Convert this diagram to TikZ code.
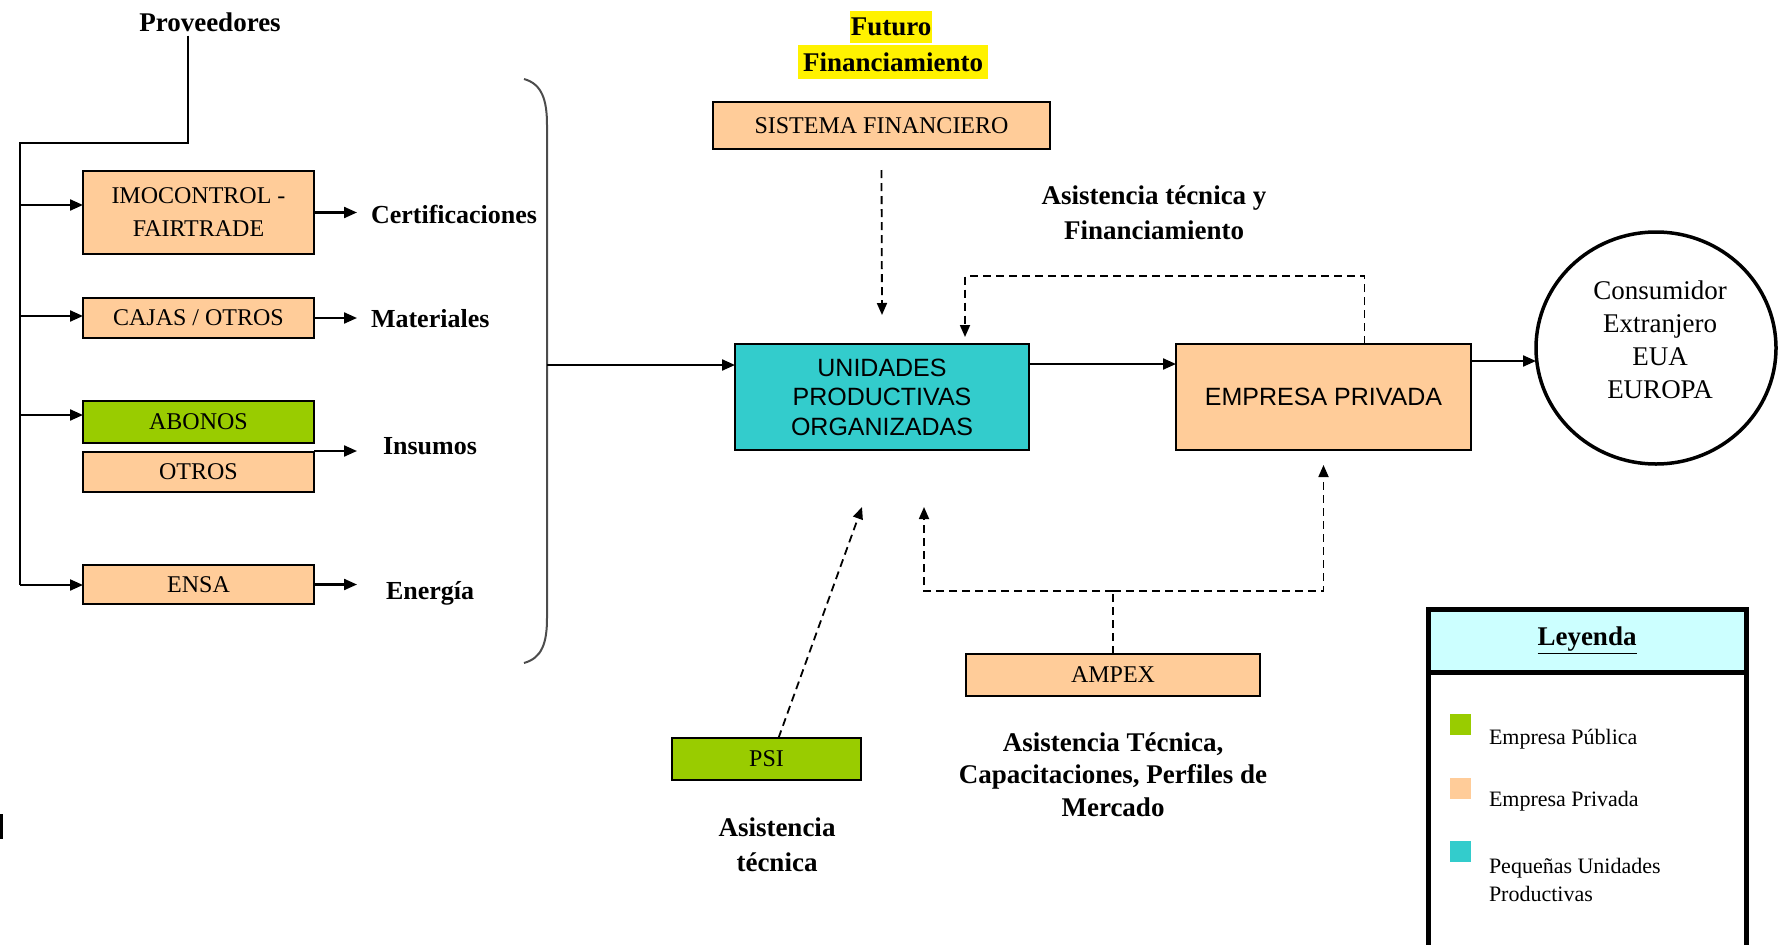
\documentclass[tikz,border=0pt]{standalone}
\usepackage{fontspec}
\setmainfont{Liberation Serif}
\newfontfamily\sansf{Liberation Sans}
\usetikzlibrary{arrows.meta,shapes.geometric}
\definecolor{peach}{HTML}{FFCC99}
\definecolor{lime}{HTML}{99CC00}
\definecolor{tealb}{HTML}{33CCCC}
\definecolor{lcyan}{HTML}{CCFFFF}
\begin{document}
\begin{tikzpicture}[x=1pt,y=-1pt,
 every node/.style={inner sep=0pt, outer sep=0pt},
 box/.style={draw, line width=2.2pt, minimum width=231pt, align=center, font=\fontsize{24}{29}\selectfont},
 obox/.style={box, fill=peach},
 gbox/.style={box, fill=lime},
 sbox/.style={draw, line width=2.2pt, align=center, minimum width=294pt, minimum height=106pt, font=\sansf\fontsize{25}{29.5}\selectfont},
 lbl/.style={font=\fontsize{27}{35}\selectfont\bfseries, align=center},
 slbl/.style={font=\fontsize{26}{30}\selectfont\bfseries},
 conn/.style={line width=2.2pt},
 arr/.style={conn, -{Triangle[length=13pt,width=11pt]}},
 darr/.style={line width=1.8pt, dash pattern=on 8pt off 5pt, -{Triangle[length=12pt,width=10pt]}},
 dline/.style={line width=1.8pt, dash pattern=on 8pt off 5pt},
 legtxt/.style={anchor=west, align=left, font=\fontsize{22}{28}\selectfont},
]
\useasboundingbox (0,0) rectangle (1778,945);

% suppliers tree
\node[lbl] (prov) at (210,22) {Proveedores};
\node[obox, minimum height=83pt, font=\fontsize{24}{33}\selectfont] (imo) at (198.5,212.5) {IMOCONTROL -\\FAIRTRADE};
\node[obox, minimum height=40pt] (caj) at (198.5,318) {CAJAS / OTROS};
\node[gbox, minimum height=42pt] (abo) at (198.5,422) {ABONOS};
\node[obox, minimum height=40pt] (otr) at (198.5,472) {OTROS};
\node[obox, minimum height=39pt] (ensa) at (198.5,584.5) {ENSA};

\node[slbl, anchor=west] (cert) at (371,214) {Certificaciones};
\node[slbl, anchor=west] (mat) at (371,319) {Materiales};
\node[slbl, anchor=west] (ins) at (383,446) {Insumos};
\node[slbl, anchor=west] (ene) at (386,593) {Energía};

\coordinate (c1) at (188,143);
\coordinate (c0) at (20,143);
\coordinate (s1) at (20,205);
\coordinate (s2) at (20,316);
\coordinate (s3) at (20,415);
\coordinate (s4) at (20,585);
\draw[conn] ([yshift=-4pt]prov.south -| c1) -- (c1) -- (c0) -- (s4);
\draw[arr] (s1) -- (s1 -| imo.west);
\draw[arr] (s2) -- (s2 -| caj.west);
\draw[arr] (s3) -- (s3 -| abo.west);
\draw[arr] (s4) -- (s4 -| ensa.west);

\draw[arr] (imo.east) -- ++(43,0);
\draw[arr] (caj.east) -- ++(43,0);
\draw[arr] ([yshift=1pt]otr.north east) -- ++(43,0);
\draw[arr] (ensa.east) -- ++(43,0);

% bracket
\draw[line width=2pt, black!70] (524,79) .. controls (542,84) and (547,100) .. (547,125) -- (547,618) .. controls (547,643) and (542,658) .. (524,663);
\coordinate (bm) at (547,365);

% centre
\node[lbl, fill=yellow, minimum height=32pt, inner xsep=1pt] (fut) at (891,27) {Futuro};
\node[lbl, fill=yellow, minimum height=34pt, inner xsep=5pt] (fin) at (893,62) {Financiamiento};
\node[obox, minimum width=337pt, minimum height=47pt] (sis) at (881.5,125.5) {SISTEMA FINANCIERO};
\node[sbox, fill=tealb] (unid) at (882,397) {UNIDADES\\PRODUCTIVAS\\ORGANIZADAS};
\node[sbox, fill=peach, minimum width=295pt] (emp) at (1323.5,397) {EMPRESA PRIVADA};
\node[ellipse, draw, line width=3.5pt, minimum width=240pt, minimum height=232pt] (cons) at (1656,348) {};
\node[font=\fontsize{27}{33}\selectfont, align=center] (ctext) at (1660,340) {Consumidor\\Extranjero\\EUA\\EUROPA};
\node[lbl] (atf) at (1154,212.5) {Asistencia técnica y\\Financiamiento};

\draw[arr] (bm) -- (bm -| unid.west);
\draw[arr] ([yshift=33pt]unid.east) -- ([yshift=33pt]emp.west);
\draw[arr] ([yshift=36pt]emp.east) -- ([yshift=-13pt]cons.west);
\draw[darr] ([yshift=-21pt]sis.south) -- ([yshift=29pt]unid.north);
\coordinate (fb) at (965,276);
\draw[darr] ([xshift=41pt]emp.north) |- (fb) -- ([xshift=83pt,yshift=7pt]unid.north);

% bottom
\node[obox, minimum width=294pt, minimum height=42pt] (amp) at (1113,675) {AMPEX};
\node[gbox, minimum width=189pt, minimum height=42pt] (psi) at (766.5,759) {PSI};
\node[font=\fontsize{27}{35}\selectfont\bfseries, align=center] (psil) at (777,844.5) {Asistencia\\técnica};
\node[font=\fontsize{27}{32.5}\selectfont\bfseries, align=center] (ampl) at (1113,774.5) {Asistencia Técnica,\\Capacitaciones, Perfiles de\\Mercado};
\coordinate (aj) at (1113,591);
\draw[dline] (amp.north) -- (aj);
\draw[darr] (aj) -| ([xshift=42pt,yshift=-57pt]unid.south);
\draw[darr] (aj) -| ([yshift=-15pt]emp.south);
\draw[darr] ([xshift=12pt]psi.north) -- ([xshift=-20pt,yshift=-57pt]unid.south);

% legend
\node[draw, line width=5pt, fill=lcyan, minimum width=318pt, minimum height=63pt, font=\fontsize{27}{32}\selectfont\bfseries] (lh) at (1587,640.5) {\underline{Leyenda}};
\node[draw, line width=5pt, minimum width=318pt, minimum height=285pt, anchor=north] (lb) at (lh.south) {};
\node[fill=lime, minimum size=21pt] (sq1) at (1460.5,724.5) {};
\node[fill=peach, minimum size=21pt] (sq2) at (1460.5,788) {};
\node[fill=tealb, minimum size=21pt] (sq3) at (1460.5,851.5) {};
\node[legtxt] (lt1) at (1489,739) {Empresa Pública};
\node[legtxt] (lt2) at (1489,801) {Empresa Privada};
\node[legtxt] (lt3) at (1489,880) {Pequeñas Unidades\\Productivas};

% small mark at the left edge
\draw[line width=3pt] (1.5,814) -- (1.5,839);
\end{tikzpicture}
\end{document}
